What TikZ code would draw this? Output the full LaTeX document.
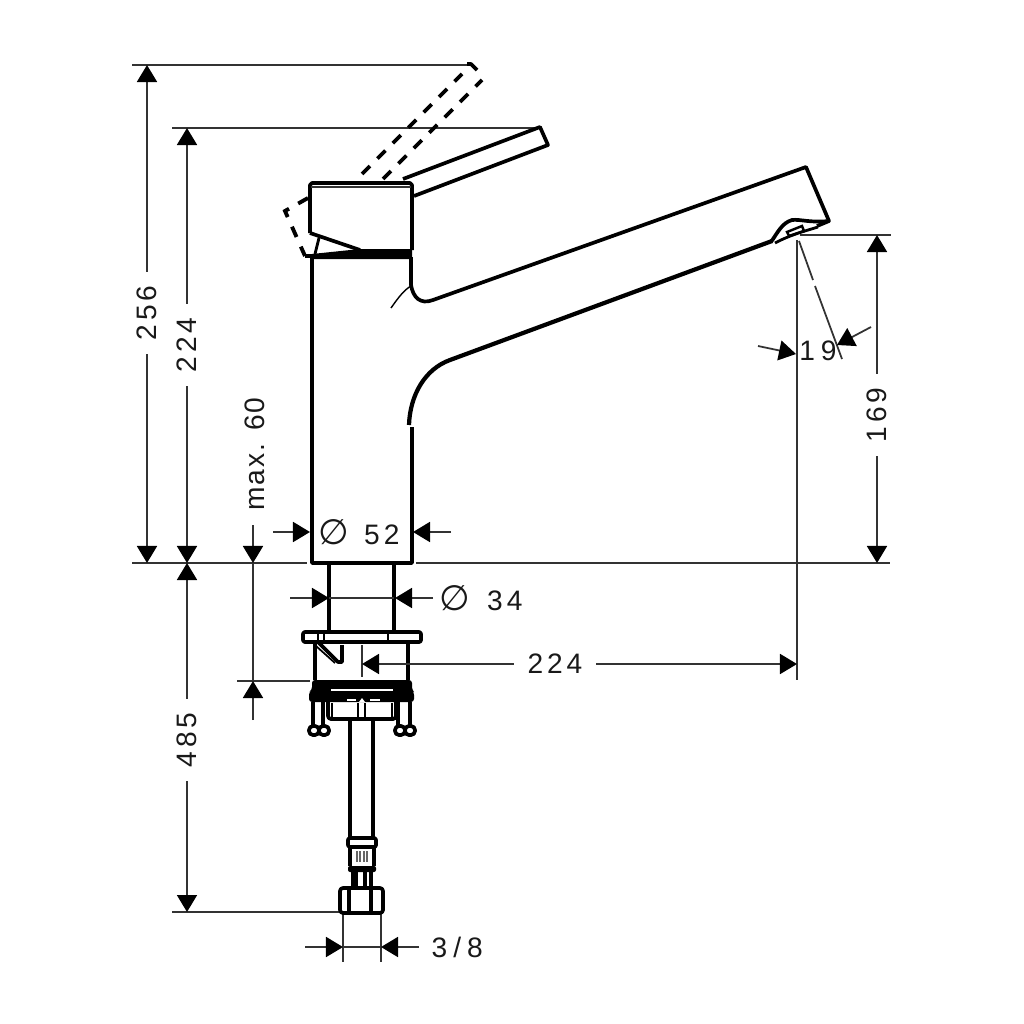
\documentclass[tikz,border=0pt]{standalone}
\usepackage{fontspec}
\setmainfont[LetterSpace=14]{Liberation Sans}
\newfontfamily\symfont{DejaVu Sans}
\usetikzlibrary{arrows.meta}
\newcommand{\diam}{{\symfont\fontsize{10}{10}\selectfont ∅}}
\tikzset{
    outline/.style={line width=1.05pt, line join=round},
    thinline/.style={line width=0.5pt, black!80},
    dimtip/.style={line width=0.5pt, black!80, -{Triangle[length=0.17cm,width=0.2cm,black]}},
    dimtext/.style={inner sep=0.13cm, font=\fontsize{8}{9}\selectfont, text=black!90},
    swung/.style={line width=1.1pt, dash pattern=on 3.2pt off 3pt},
}
\begin{document}
\begin{tikzpicture}[x=0.01cm,y=-0.01cm]
    \useasboundingbox (0,0) rectangle (1024,1024);

    % extension lines
    \draw[thinline] (132,65) -- (470,65);
    \draw[thinline] (172,128) -- (540,128);
    \draw[thinline] (132,563) -- (307,563);
    \draw[thinline] (416,563) -- (890,563);
    \draw[thinline] (172,912) -- (340,912);
    \draw[thinline] (237,681) -- (310,681);
    \draw[thinline] (800,235) -- (891,235);
    \draw[thinline] (797,240) -- (797,680);
    \draw[thinline] (343,913) -- (343,962);
    \draw[thinline] (381,913) -- (381,962);
    \draw[thinline] (799,241) -- (813,280);
    \draw[thinline] (815,286) -- (842,359);

    % spout and body
    \draw[outline] (412,427) -- (412,563) -- (312,563) -- (312,257);
    \draw[outline] (411,257) -- (411,285) .. controls (413,297) and (420,305) .. (433,300) -- (806,167) -- (829,221) -- (817,226);
    \draw[line width=1.2pt] (772,241) -- (450,360) .. controls (425,369) and (410,395) .. (409,425);
    \draw[line width=0.4pt] (391,308) .. controls (398,298) and (404,290) .. (411,286);

    % aerator
    \draw[outline] (771,242) .. controls (778,232) and (782,223) .. (792,220) .. controls (800,219) and (810,223) .. (829,221);
    \draw[line width=0.8pt] (775,243) .. controls (790,235) and (805,231) .. (818,227);
    \draw[line width=0.7pt] (787,232) -- (802,226) -- (804,231) -- (789,236) -- cycle;

    % head and lever
    \draw[outline] (310,233) -- (310,185) -- (312,183) -- (410,183) -- (412,185) -- (412,250);
    \draw[thinline] (311,187) -- (411,187);
    \draw[outline] (310,233) -- (360,250);
    \fill (312,254) -- (360,249) -- (412,249) -- (412,259) -- (312,259) -- cycle;
    \draw[line width=0.8pt] (319,238) -- (315,254);
    \draw[outline] (403,179) -- (540,127) -- (548,145) -- (414,196);

    % lever in raised position
    \draw[swung] (362,174) -- (462,74);
    \draw[outline] (467,64) -- (471,64) -- (477,70);
    \draw[swung] (383,179) -- (482,80);
    \draw[swung] (308,198) -- (285,211) -- (305,256);
    \draw[outline] (305,256) -- (312,256);

    % neck and mounting
    \draw[outline] (329,564) -- (329,632);
    \draw[outline] (394,564) -- (394,632);
    \draw[outline, rounded corners=0.02cm] (303,632) rectangle (421,642);
    \draw[line width=0.5pt] (318,633) -- (318,641) (324,633) -- (324,641) (388,633) -- (388,641);
    \draw[outline] (315,642) -- (315,680);
    \draw[outline] (408,642) -- (408,680);
    \draw[outline] (318,642) -- (338,662) -- (342,662) -- (342,645);
    \draw[line width=0.5pt] (316,646) -- (335,663);
    \draw[line width=0.8pt, black!80] (362,645) -- (362,677);
    \fill[rounded corners=0.03cm] (312,680) -- (412,680) -- (412,690) -- (414,692) -- (414,702) -- (309,702) -- (309,692) -- (312,690) -- cycle;
    \draw[white, line width=0.5pt] (331,690) -- (393,690);
    \draw[white, line width=0.7pt] (347,700) -- (356,700) (370,700) -- (380,700);
    \fill[white] (359,702) -- (362,698) -- (365,702) -- cycle;

    % clamp and bolts
    \draw[outline] (313,702) -- (313,726) (323,702) -- (323,726);
    \draw[outline] (398,702) -- (398,726) (410,702) -- (410,726);
    \draw[outline, rounded corners=0.04cm] (309,726) rectangle (319,735);
    \draw[outline, rounded corners=0.04cm] (319,726) rectangle (329,735);
    \draw[outline, rounded corners=0.04cm] (395,726) rectangle (405,735);
    \draw[outline, rounded corners=0.04cm] (405,726) rectangle (415,735);
    \draw[outline, rounded corners=0.03cm] (328,702) -- (328,719) -- (396,719) -- (396,702);
    \draw[line width=0.4pt] (332,703) -- (332,718) (392,703) -- (392,718) (358,703) -- (358,718) (365,703) -- (365,718);

    % hose and nut
    \draw[outline] (350,720) -- (350,838);
    \draw[outline] (373,720) -- (373,838);
    \draw[outline, rounded corners=0.02cm] (348,838) rectangle (376,847);
    \draw[outline] (350,847) -- (350,866) (374,847) -- (374,866);
    \draw[line width=0.8pt, black!60] (357,851) -- (357,862) (360,851) -- (360,862) (364,851) -- (364,862) (367,851) -- (367,862);
    \fill[rounded corners=0.02cm] (348,866) rectangle (376,872);
    \fill (351,872) rectangle (358,888);
    \draw[outline] (365,872) -- (365,888);
    \draw[outline] (371,872) -- (371,888);
    \draw[outline, rounded corners=0.03cm] (340,888) rectangle (383,913);
    \draw[outline] (349,888) -- (349,913) (371,888) -- (371,913);

    % dimensions
    \node[dimtext, rotate=90] (lblA) at (147,313) {256};
    \draw[dimtip] (lblA) -- (147,65);
    \draw[dimtip] (lblA) -- (147,563);
    \node[dimtext, rotate=90] (lblB) at (187,345) {224};
    \draw[dimtip] (lblB) -- (187,128);
    \draw[dimtip] (lblB) -- (187,563);
    \node[dimtext, rotate=90] (lblC) at (187,740) {485};
    \draw[dimtip] (lblC) -- (187,563);
    \draw[dimtip] (lblC) -- (187,912);
    \node[dimtext, rotate=90] (lblD) at (877,415) {169};
    \draw[dimtip] (lblD) -- (877,235);
    \draw[dimtip] (lblD) -- (877,563);
    \node[dimtext, rotate=90, anchor=center] (lblE) at (255,454) {\addfontfeature{LetterSpace=7}max. 60};
    \draw[dimtip] (253,525) -- (253,563);
    \draw[dimtip] (253,720) -- (253,681);
    \draw[thinline] (253,563) -- (253,681);
    \node[dimtext] (lblF) at (359,532) {\diam\hspace{0.15cm}52};
    \draw[dimtip] (273,532) -- (310,532);
    \draw[dimtip] (451,532) -- (413,532);
    \node[dimtext] (lblG) at (481,598) {\diam\hspace{0.17cm}34};
    \draw[dimtip] (290,598) -- (329,598);
    \draw[thinline] (329,598) -- (394,598);
    \draw[dimtip] (433,598) -- (395,598);
    \node[dimtext] (lblH) at (555,664) {224};
    \draw[dimtip] (lblH) -- (362,664);
    \draw[dimtip] (lblH) -- (797,664);
    \node[dimtext, inner sep=0pt] (lblI) at (818,351) {1\hspace{0.06cm}9};
    \draw[dimtip] (758,346) -- (796,354);
    \draw[dimtip] (871,327) -- (837,345);
    \node[dimtext, anchor=west] (lblJ) at (418,947) {3\hspace{0.06cm}/\hspace{0.06cm}8};
    \draw[dimtip] (305,947) -- (343,947);
    \draw[dimtip] (419,947) -- (381,947);
    \draw[thinline] (343,947) -- (381,947);
\end{tikzpicture}
\end{document}
